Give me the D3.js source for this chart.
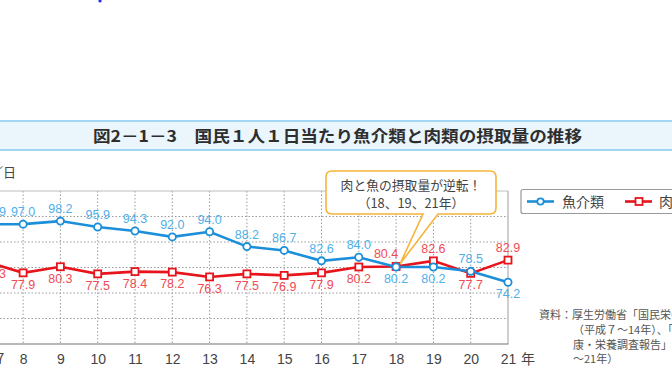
<!DOCTYPE html>
<html><head><meta charset="utf-8">
<script src="https://cdn.jsdelivr.net/npm/d3@7/dist/d3.min.js"></script>
<style>
html,body{margin:0;padding:0;background:#fff;overflow:hidden}
svg{display:block}
text{font-family:"Liberation Sans",Arial,sans-serif}
.jp{font-family:"Noto Sans CJK JP","Noto Sans CJK SC",sans-serif}
</style></head>
<body>
<svg id="c" width="672" height="372"></svg>
<script>
const years = [7,8,9,10,11,12,13,14,15,16,17,18,19,20,21];
const yearLabels = ["平成7","8","9","10","11","12","13","14","15","16","17","18","19","20","21"];
const fish = [96.9,97.0,98.2,95.9,94.3,92.0,94.0,88.2,86.7,82.6,84.0,80.2,80.2,78.5,74.2];
const meat = [82.3,77.9,80.3,77.5,78.4,78.2,76.3,77.5,76.9,77.9,80.2,80.4,82.6,77.7,82.9];
const yTicks = [60,70,80,90,100];
const seriesNames = ["魚介類","肉類"];
const title = "図2－1－3　国民１人１日当たり魚介類と肉類の摂取量の推移";
const calloutLines = ["肉と魚の摂取量が逆転！","（18、19、21年）"];
const calloutYear = 18;
const sourceLines = ["資料：厚生労働省「国民栄養調査」","（平成７～14年）、「国民健","康・栄養調査報告」（平成15","～21年）"];

const svg = d3.select("#c");
const x = d3.scaleLinear().domain([7,21]).range([-14.2,508]);
const y = d3.scaleLinear().domain([50,110]).range([344,191]);
const blue="#1b8fd9", blueT="#4fb0ea", red="#e8141c", redT="#ef4b55";

// stray dot
svg.append("circle").attr("cx",100).attr("cy",1).attr("r",1.6).attr("fill","#2233dd");

// title band
svg.append("rect").attr("x",-2).attr("y",121).attr("width",680).attr("height",29)
  .attr("fill","#eaf5fc").attr("stroke","#8ccdf0").attr("stroke-width",1.6);
svg.append("text").attr("class","jp").attr("x",93).attr("y",142)
  .attr("textLength",489).attr("lengthAdjust","spacingAndGlyphs")
  .attr("font-size",16).attr("font-weight","bold").attr("fill","#2e2e2e").text(title);

// y unit
svg.append("text").attr("class","jp").attr("x",16).attr("y",177).attr("text-anchor","end")
  .attr("font-size",13).attr("fill","#444").text("g／人／日");

// grid
const g = svg.append("g");
g.selectAll("line.h").data(yTicks).join("line")
  .attr("x1",0).attr("x2",x(21)).attr("y1",d=>y(d)).attr("y2",d=>y(d))
  .attr("stroke","#9a9a9a").attr("stroke-width",1).attr("stroke-dasharray","1.5,2");
g.selectAll("line.v").data(years.slice(1,-1)).join("line")
  .attr("x1",d=>x(d)).attr("x2",d=>x(d)).attr("y1",y(110)).attr("y2",y(50))
  .attr("stroke","#9a9a9a").attr("stroke-width",1).attr("stroke-dasharray","1.5,2");
g.append("line").attr("x1",0).attr("x2",x(21)).attr("y1",y(110)).attr("y2",y(110))
  .attr("stroke","#bdbdbd").attr("stroke-width",1);
g.append("line").attr("x1",x(21)).attr("x2",x(21)).attr("y1",y(110)).attr("y2",y(50))
  .attr("stroke","#a0a0a0").attr("stroke-width",1);
g.append("line").attr("x1",0).attr("x2",x(21)+0.5).attr("y1",y(50)).attr("y2",y(50))
  .attr("stroke","#a0a0a0").attr("stroke-width",1.6);

// x axis labels
const xAxis = d3.axisBottom(x).tickValues(years).tickSize(0).tickFormat((d,i)=>yearLabels[i]);
const ax = svg.append("g").attr("transform",`translate(0,${y(50)})`).call(xAxis);
ax.select(".domain").remove();
ax.selectAll("text").attr("dy",0).attr("y",20).attr("font-size",14)
  .attr("fill","#444").style("font-family",(d,i)=>i===0?'"Noto Sans CJK JP",sans-serif':'"Liberation Sans",Arial,sans-serif');
svg.append("text").attr("class","jp").attr("x",x(21)+13).attr("y",364).attr("font-size",14)
  .attr("fill","#444").text("年");

// lines
const line = d3.line().x((d,i)=>x(years[i])).y(d=>y(d));
svg.append("path").datum(meat).attr("d",line).attr("fill","none").attr("stroke",red).attr("stroke-width",2.6);
svg.append("path").datum(fish).attr("d",line).attr("fill","none").attr("stroke",blue).attr("stroke-width",2.6);
svg.selectAll("rect.m").data(meat).join("rect")
  .attr("x",(d,i)=>x(years[i])-3.5).attr("y",d=>y(d)-3.5).attr("width",7).attr("height",7)
  .attr("fill","#fff").attr("stroke",red).attr("stroke-width",1.8);
svg.selectAll("circle.f").data(fish).join("circle")
  .attr("cx",(d,i)=>x(years[i])).attr("cy",d=>y(d)).attr("r",3.6)
  .attr("fill","#fff").attr("stroke",blue).attr("stroke-width",1.8);

// callout
const tx = x(calloutYear)+4, ty = y(80.3)-3;
svg.append("path")
  .attr("d",`M332,171 H490 Q496,171 496,177 V208 Q496,214 490,214 H438 L${tx},${ty} L423,214 H332 Q326,214 326,208 V177 Q326,171 332,171 Z`)
  .attr("fill","#fff").attr("stroke","#f5b43a").attr("stroke-width",1.6);
svg.selectAll("text.co").data(calloutLines).join("text").attr("class","jp")
  .attr("x",411).attr("y",(d,i)=>190+i*18).attr("text-anchor","middle")
  .attr("font-size",12.8).attr("fill","#444").text(d=>d);

// value labels
function labels(data, other, col){
  svg.selectAll(null).data(data).join("text")
    .attr("x",(d,i)=>{
      let dx = i===0 ? 8 : 0;
      const up = d>=other[i];
      if (up && years[i]===calloutYear) dx = -10; // keep clear of the callout pointer
      return x(years[i])+dx;
    })
    .attr("y",(d,i)=> d>=other[i] ? y(d)-8 : y(d)+16)
    .attr("text-anchor","middle").attr("font-size",12.5).attr("fill",col)
    .text(d=>d.toFixed(1));
}
labels(fish, meat, blueT);
labels(meat, fish, redT);

// legend
const lg = svg.append("g");
lg.append("rect").attr("x",521).attr("y",189.5).attr("width",180).attr("height",24).attr("rx",2)
  .attr("fill","#fff").attr("stroke","#999").attr("stroke-width",1.2);
lg.append("line").attr("x1",527).attr("x2",554).attr("y1",201.5).attr("y2",201.5).attr("stroke",blue).attr("stroke-width",2.6);
lg.append("circle").attr("cx",540.5).attr("cy",201.5).attr("r",3.2).attr("fill","#fff").attr("stroke",blue).attr("stroke-width",1.8);
lg.append("line").attr("x1",625).attr("x2",652).attr("y1",201.5).attr("y2",201.5).attr("stroke",red).attr("stroke-width",2.6);
lg.append("rect").attr("x",635.5).attr("y",198).attr("width",7).attr("height",7).attr("fill","#fff").attr("stroke",red).attr("stroke-width",1.8);
lg.append("text").attr("class","jp").attr("x",562).attr("y",206.5).attr("font-size",14).attr("fill","#444").text(seriesNames[0]);
lg.append("text").attr("class","jp").attr("x",659).attr("y",206.5).attr("font-size",14).attr("fill","#444").text(seriesNames[1]);

// source
svg.selectAll("text.src").data(sourceLines).join("text").attr("class","jp")
  .attr("x",(d,i)=>i===0?539:573).attr("y",(d,i)=>319+i*14.8)
  .attr("font-size",11).attr("fill","#555").text(d=>d);
</script>
</body></html>
